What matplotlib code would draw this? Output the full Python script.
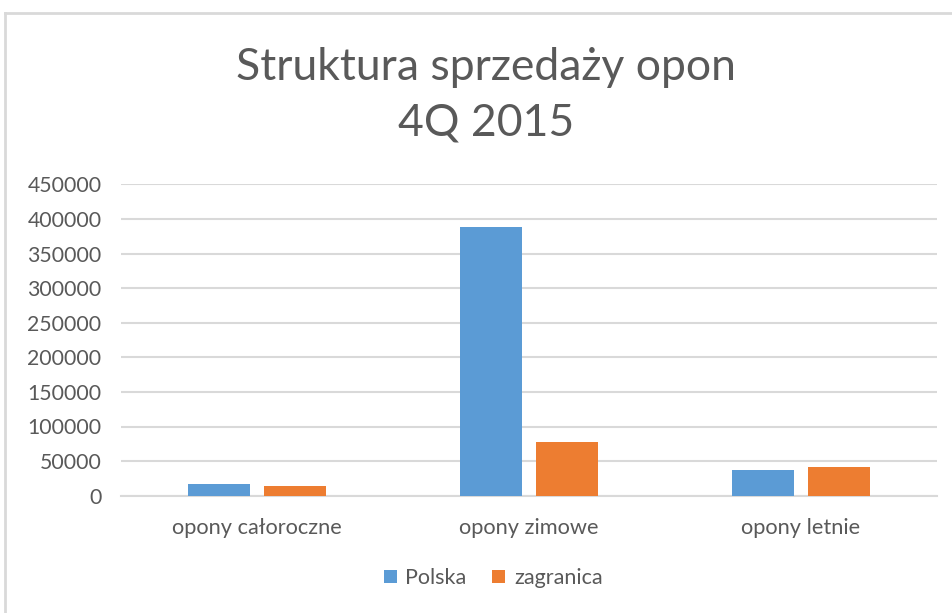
import matplotlib
matplotlib.use("Agg")
import matplotlib.pyplot as plt
import numpy as np
from matplotlib.lines import Line2D
from matplotlib.patches import Patch

categories = ["opony całoroczne", "opony zimowe", "opony letnie"]
series_names = ["Polska", "zagranica"]
polska = [17300, 388000, 37600]
zagranica = [14000, 78000, 41500]
yticks = [0, 50000, 100000, 150000, 200000, 250000, 300000, 350000, 400000, 450000]
title_lines = ["Struktura sprzedaży opon", "4Q 2015"]

BLUE = "#5B9BD5"
ORANGE = "#ED7D31"
TXT = "#595959"
GRID = "#D9D9D9"

plt.rcParams['font.family'] = ['Lato', 'DejaVu Sans']

W, H = 952, 613
fig = plt.figure(figsize=(W / 100, H / 100), dpi=100)
fig.patch.set_facecolor("white")

# outer chart border (partially visible)
fig.add_artist(Line2D([5 / W, 5 / W], [0, 1 - 13 / H], transform=fig.transFigure, color=GRID, lw=2))
fig.add_artist(Line2D([5 / W, 1.01], [1 - 13 / H, 1 - 13 / H], transform=fig.transFigure, color=GRID, lw=2))

left, right = 121 / W, 937 / W
bottom, top = 1 - 495.7 / H, 1 - 184.3 / H
ax = fig.add_axes([left, bottom, right - left, top - bottom])

x = np.arange(len(categories))
bw = 0.225
off = 0.14
ax.bar(x - off, polska, width=bw, color=BLUE, zorder=3, label=series_names[0])
ax.bar(x + off, zagranica, width=bw, color=ORANGE, zorder=3, label=series_names[1])

ax.set_xlim(-0.5, len(categories) - 0.5)
ax.set_ylim(0, 450000)
ax.set_yticks(yticks)
ax.set_yticklabels([str(v) for v in yticks])
ax.set_xticks(x)
ax.set_xticklabels(categories, fontsize=15.7)
ax.yaxis.grid(True, color=GRID, lw=1.5, zorder=0)
ax.set_axisbelow(True)
for s in ["left", "right", "top"]:
    ax.spines[s].set_visible(False)
ax.spines["bottom"].set_color(GRID)
ax.spines["bottom"].set_linewidth(1.5)
ax.tick_params(axis="both", length=0, colors=TXT)
ax.tick_params(axis="y", pad=14, labelsize=15.3)
ax.tick_params(axis="x", pad=16)

tx = 486 / W
fig.text(tx, 1 - 67 / H, title_lines[0], ha="center", va="center", fontsize=32, color=TXT)
fig.text(tx, 1 - 123 / H, title_lines[1], ha="center", va="center", fontsize=32, color=TXT)

handles = [Patch(facecolor=BLUE), Patch(facecolor=ORANGE)]
fig.legend(handles, series_names, loc="center", bbox_to_anchor=(0.518, 1 - 578 / H),
           ncol=2, frameon=False, fontsize=15.5, labelcolor=TXT,
           handlelength=0.6, handleheight=0.6, handletextpad=0.4, columnspacing=1.2)

fig.savefig("out.png", dpi=100)
